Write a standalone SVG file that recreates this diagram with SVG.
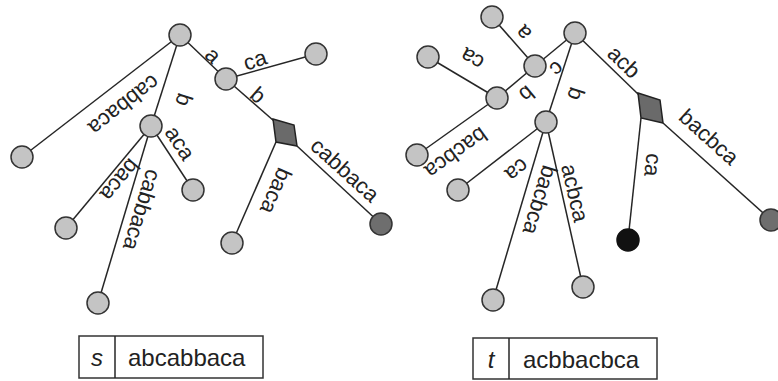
<svg xmlns="http://www.w3.org/2000/svg" width="778" height="381" viewBox="0 0 778 381">
<style>
.e{stroke:#262626;stroke-width:1.5;fill:none}
.n{fill:#c4c4c4;stroke:#333;stroke-width:1.5}
.dk{fill:#6e6e6e;stroke:#333;stroke-width:1.5}
.bk{fill:#111;stroke:#111;stroke-width:1.5}
.dm{fill:#6a6a6a;stroke:#222;stroke-width:1.5}
.l{font-family:"Liberation Sans",Arial,sans-serif;font-size:22px;fill:#222;text-anchor:middle;dominant-baseline:central}
.bx{fill:#fff;stroke:#333;stroke-width:1.5}
.bt{font-family:"Liberation Sans",Arial,sans-serif;font-size:24px;fill:#222}
</style>
<rect width="778" height="381" fill="#fff"/>
<g id="connectors">
<line class="e" x1="180" y1="35" x2="22" y2="157"/>
<line class="e" x1="180" y1="35" x2="151" y2="126"/>
<line class="e" x1="180" y1="35" x2="226" y2="79"/>
<line class="e" x1="226" y1="79" x2="316" y2="54"/>
<line class="e" x1="226" y1="79" x2="274" y2="121"/>
<line class="e" x1="297" y1="146" x2="381" y2="224"/>
<line class="e" x1="276" y1="142" x2="232" y2="243"/>
<line class="e" x1="151" y1="126" x2="193" y2="190"/>
<line class="e" x1="151" y1="126" x2="66" y2="228"/>
<line class="e" x1="151" y1="126" x2="98" y2="303"/>
<line class="e" x1="575" y1="33" x2="535" y2="66"/>
<line class="e" x1="535" y1="66" x2="492" y2="17"/>
<line class="e" x1="535" y1="66" x2="497" y2="98"/>
<line class="e" x1="497" y1="98" x2="428" y2="57"/>
<line class="e" x1="497" y1="98" x2="417" y2="155"/>
<line class="e" x1="575" y1="33" x2="546" y2="122"/>
<line class="e" x1="546" y1="122" x2="458" y2="190"/>
<line class="e" x1="546" y1="122" x2="493" y2="300"/>
<line class="e" x1="546" y1="122" x2="583" y2="287"/>
<line class="e" x1="575" y1="33" x2="639" y2="95"/>
<line class="e" x1="663" y1="123" x2="771" y2="220"/>
<line class="e" x1="641" y1="118" x2="628" y2="240"/>
</g>
<g id="labels">
<text class="l" transform="translate(124,105) rotate(142)">cabbaca</text>
<text class="l" transform="translate(184,100) rotate(108)">b</text>
<text class="l" transform="translate(213,55) rotate(44)">a</text>
<text class="l" transform="translate(255,60) rotate(-18)">ca</text>
<text class="l" transform="translate(258,95) rotate(41)">b</text>
<text class="l" transform="translate(345,170) rotate(42)">cabbaca</text>
<text class="l" transform="translate(276,191) rotate(114)">baca</text>
<text class="l" transform="translate(180,143) rotate(57)">aca</text>
<text class="l" transform="translate(120,180) rotate(130)">baca</text>
<text class="l" transform="translate(142,210) rotate(107)">cabbaca</text>
<text class="l" transform="translate(523,33) rotate(229)">a</text>
<text class="l" transform="translate(472,59) rotate(211)">ca</text>
<text class="l" transform="translate(557,69) rotate(140)">c</text>
<text class="l" transform="translate(527,94) rotate(140)">b</text>
<text class="l" transform="translate(576,94) rotate(108)">b</text>
<text class="l" transform="translate(456,153) rotate(144)">bacbca</text>
<text class="l" transform="translate(517,170) rotate(142)">ca</text>
<text class="l" transform="translate(540,200) rotate(107)">bacbca</text>
<text class="l" transform="translate(575,193) rotate(77)">acbca</text>
<text class="l" transform="translate(624,62) rotate(44)">acb</text>
<text class="l" transform="translate(709,137) rotate(42)">bacbca</text>
<text class="l" transform="translate(653,165) rotate(96)">ca</text>
</g>
<g id="s-root"><circle class="n" cx="180" cy="35" r="11"/></g>
<g id="s-leaf1"><circle class="n" cx="22" cy="157" r="11"/></g>
<g id="s-b"><circle class="n" cx="151" cy="126" r="11"/></g>
<g id="s-a"><circle class="n" cx="226" cy="79" r="11"/></g>
<g id="s-leaf-ca"><circle class="n" cx="316" cy="54" r="11"/></g>
<g id="s-ab"><polygon class="dm" points="273,119 294,125 297,146 276,142"/></g>
<g id="s-leaf-cabbaca2"><circle class="dk" cx="381" cy="224" r="11"/></g>
<g id="s-leaf-baca2"><circle class="n" cx="232" cy="243" r="11"/></g>
<g id="s-leaf-aca"><circle class="n" cx="193" cy="190" r="11"/></g>
<g id="s-leaf-baca"><circle class="n" cx="66" cy="228" r="11"/></g>
<g id="s-leaf-cabbaca"><circle class="n" cx="98" cy="303" r="11"/></g>
<g id="t-root"><circle class="n" cx="575" cy="33" r="11"/></g>
<g id="t-c"><circle class="n" cx="535" cy="66" r="11"/></g>
<g id="t-leaf-a"><circle class="n" cx="492" cy="17" r="11"/></g>
<g id="t-cb"><circle class="n" cx="497" cy="98" r="11"/></g>
<g id="t-leaf-ca1"><circle class="n" cx="428" cy="57" r="11"/></g>
<g id="t-leaf-bacbca1"><circle class="n" cx="417" cy="155" r="11"/></g>
<g id="t-b"><circle class="n" cx="546" cy="122" r="11"/></g>
<g id="t-leaf-ca2"><circle class="n" cx="458" cy="190" r="11"/></g>
<g id="t-leaf-bacbca2"><circle class="n" cx="493" cy="300" r="11"/></g>
<g id="t-leaf-acbca"><circle class="n" cx="583" cy="287" r="11"/></g>
<g id="t-acb"><polygon class="dm" points="638,93 660,100 663,123 641,118"/></g>
<g id="t-leaf-bacbca3"><circle class="dk" cx="771" cy="220" r="11"/></g>
<g id="t-leaf-ca3"><circle class="bk" cx="628" cy="240" r="11"/></g>
<g id="box-s">
<rect class="bx" x="79" y="336" width="184" height="42"/>
<line class="e" x1="115" y1="336" x2="115" y2="378"/>
<text class="bt" x="97" y="366" text-anchor="middle" font-style="italic">s</text>
<text class="bt" x="128" y="366">abcabbaca</text>
</g>
<g id="box-t">
<rect class="bx" x="473" y="338" width="184" height="41"/>
<line class="e" x1="509" y1="338" x2="509" y2="379"/>
<text class="bt" x="491" y="368" text-anchor="middle" font-style="italic">t</text>
<text class="bt" x="523" y="368">acbbacbca</text>
</g>
</svg>
